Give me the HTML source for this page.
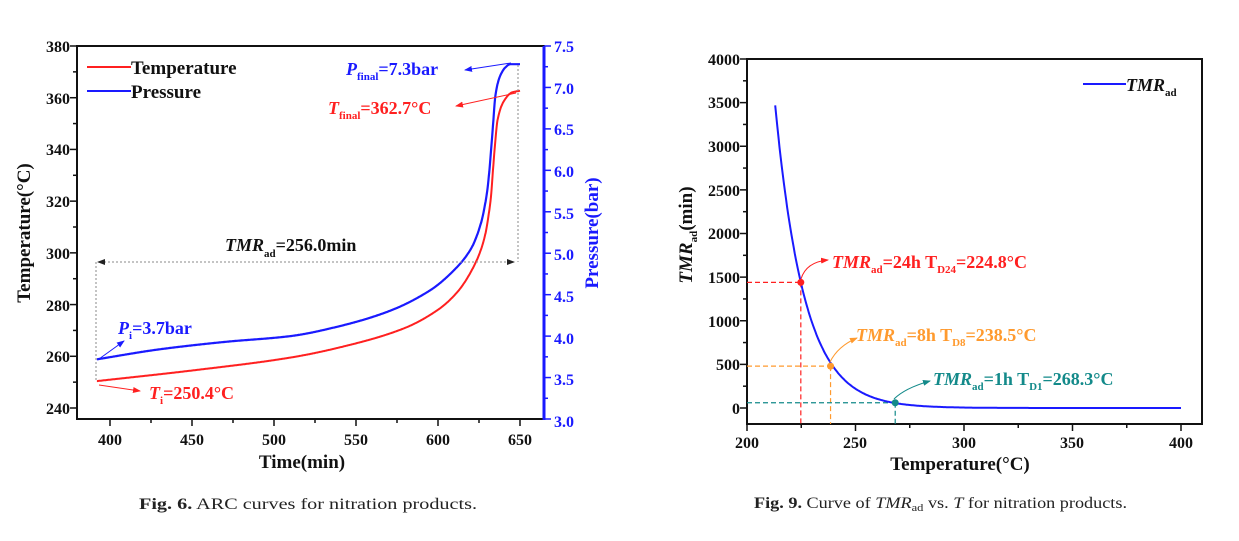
<!DOCTYPE html>
<html><head><meta charset="utf-8">
<style>
html,body{margin:0;padding:0;background:#fff;}
svg{display:block;font-family:"Liberation Serif",serif;}
.b{font-weight:bold;}
</style></head>
<body>
<svg id="s" width="1239" height="541" viewBox="0 0 1239 541" xmlns="http://www.w3.org/2000/svg">
<defs>
<marker id="ab" markerWidth="8" markerHeight="6" refX="7" refY="3" orient="auto" markerUnits="userSpaceOnUse"><path d="M0,0 L8,3 L0,6 Z" fill="#1a1aff"/></marker>
<marker id="ar" markerWidth="8" markerHeight="6" refX="7" refY="3" orient="auto" markerUnits="userSpaceOnUse"><path d="M0,0 L8,3 L0,6 Z" fill="#ff2020"/></marker>
<marker id="ao" markerWidth="8" markerHeight="6" refX="7" refY="3" orient="auto" markerUnits="userSpaceOnUse"><path d="M0,0 L8,3 L0,6 Z" fill="#ff9a2e"/></marker>
<marker id="at" markerWidth="8" markerHeight="6" refX="7" refY="3" orient="auto" markerUnits="userSpaceOnUse"><path d="M0,0 L8,3 L0,6 Z" fill="#138a8a"/></marker>
<marker id="ak" markerWidth="8" markerHeight="6" refX="7" refY="3" orient="auto" markerUnits="userSpaceOnUse"><path d="M0,0 L8,3 L0,6 Z" fill="#222"/></marker>
</defs>
<g id="g"></g>

<g class="b" font-size="16" fill="#111" text-anchor="end">
<text x="70" y="52">380</text><text x="70" y="104">360</text><text x="70" y="155">340</text>
<text x="70" y="207">320</text><text x="70" y="259">300</text><text x="70" y="311">280</text>
<text x="70" y="362">260</text><text x="70" y="414">240</text>
</g>
<g class="b" font-size="16" fill="#1a1aff">
<text x="554" y="52">7.5</text><text x="554" y="94">7.0</text><text x="554" y="135">6.5</text>
<text x="554" y="177">6.0</text><text x="554" y="219">5.5</text><text x="554" y="260">5.0</text>
<text x="554" y="302">4.5</text><text x="554" y="344">4.0</text><text x="554" y="385">3.5</text>
<text x="554" y="427">3.0</text>
</g>
<g class="b" font-size="16" fill="#111" text-anchor="middle">
<text x="110" y="445">400</text><text x="192" y="445">450</text><text x="274" y="445">500</text>
<text x="356" y="445">550</text><text x="438" y="445">600</text><text x="520" y="445">650</text>
</g>
<text class="b" x="302" y="468" font-size="19" text-anchor="middle" fill="#111">Time(min)</text>
<text class="b" transform="translate(30,233) rotate(-90)" font-size="19" text-anchor="middle" fill="#111">Temperature(°C)</text>
<text class="b" transform="translate(598,233) rotate(-90)" font-size="19" text-anchor="middle" fill="#1a1aff">Pressure(bar)</text>
<line x1="87" y1="67" x2="131" y2="67" stroke="#ff2020" stroke-width="2"/>
<text class="b" x="131" y="74" font-size="19" fill="#111">Temperature</text>
<line x1="87" y1="91" x2="131" y2="91" stroke="#1a1aff" stroke-width="2"/>
<text class="b" x="131" y="98" font-size="19" fill="#111">Pressure</text>
<text class="b" x="346" y="75" font-size="18" fill="#1a1aff"><tspan font-style="italic">P</tspan><tspan font-size="11" dy="5">final</tspan><tspan dy="-5">=7.3bar</tspan></text>
<line x1="511" y1="63" x2="465" y2="70" stroke="#1a1aff" stroke-width="1" marker-end="url(#ab)"/>
<text class="b" x="328" y="114" font-size="18" fill="#ff2020"><tspan font-style="italic">T</tspan><tspan font-size="11" dy="5">final</tspan><tspan dy="-5">=362.7°C</tspan></text>
<line x1="516" y1="93" x2="456" y2="106" stroke="#ff2020" stroke-width="1" marker-end="url(#ar)"/>
<text class="b" x="225" y="251" font-size="18" fill="#111"><tspan font-style="italic">TMR</tspan><tspan font-size="11" dy="6">ad</tspan><tspan dy="-6">=256.0min</tspan></text>
<text class="b" x="118" y="334" font-size="18" fill="#1a1aff"><tspan font-style="italic">P</tspan><tspan font-size="11" dy="5">i</tspan><tspan dy="-5">=3.7bar</tspan></text>
<line x1="99" y1="359" x2="124" y2="341" stroke="#1a1aff" stroke-width="1" marker-end="url(#ab)"/>
<text class="b" x="149" y="399" font-size="18" fill="#ff2020"><tspan font-style="italic">T</tspan><tspan font-size="11" dy="5">i</tspan><tspan dy="-5">=250.4°C</tspan></text>
<line x1="99" y1="385" x2="140" y2="391" stroke="#ff2020" stroke-width="1" marker-end="url(#ar)"/>

<g class="b" font-size="16" fill="#111" text-anchor="end">
<text x="740" y="65">4000</text><text x="740" y="108">3500</text><text x="740" y="152">3000</text>
<text x="740" y="196">2500</text><text x="740" y="239">2000</text><text x="740" y="283">1500</text>
<text x="740" y="327">1000</text><text x="740" y="370">500</text><text x="740" y="414">0</text>
</g>
<g class="b" font-size="16" fill="#111" text-anchor="middle">
<text x="747" y="448">200</text><text x="855" y="448">250</text><text x="964" y="448">300</text>
<text x="1072" y="448">350</text><text x="1181" y="448">400</text>
</g>
<text class="b" x="960" y="470" font-size="19" text-anchor="middle" fill="#111">Temperature(°C)</text>
<text class="b" transform="translate(692,235) rotate(-90)" font-size="19" text-anchor="middle" fill="#111"><tspan font-style="italic">TMR</tspan><tspan font-size="11" dy="5">ad</tspan><tspan dy="-5">(min)</tspan></text>
<line x1="1083" y1="84" x2="1126" y2="84" stroke="#1a1aff" stroke-width="2"/>
<text class="b" x="1126" y="91" font-size="18" fill="#111"><tspan font-style="italic">TMR</tspan><tspan font-size="11" dy="5">ad</tspan></text>
<text class="b" x="832" y="268" font-size="18" fill="#ff2020"><tspan font-style="italic">TMR</tspan><tspan font-size="11" dy="5">ad</tspan><tspan dy="-5">=24h T</tspan><tspan font-size="11" dy="5">D24</tspan><tspan dy="-5">=224.8°C</tspan></text>
<text class="b" x="856" y="341" font-size="18" fill="#ff9a2e"><tspan font-style="italic">TMR</tspan><tspan font-size="11" dy="5">ad</tspan><tspan dy="-5">=8h T</tspan><tspan font-size="11" dy="5">D8</tspan><tspan dy="-5">=238.5°C</tspan></text>
<text class="b" x="933" y="385" font-size="18" fill="#138a8a"><tspan font-style="italic">TMR</tspan><tspan font-size="11" dy="5">ad</tspan><tspan dy="-5">=1h T</tspan><tspan font-size="11" dy="5">D1</tspan><tspan dy="-5">=268.3°C</tspan></text>
<path d="M801,279 Q806,262 828,260" fill="none" stroke="#ff2020" stroke-width="1" marker-end="url(#ar)"/>
<path d="M830,362 Q838,346 857,338" fill="none" stroke="#ff9a2e" stroke-width="1" marker-end="url(#ao)"/>
<path d="M894,399 Q905,388 930,381" fill="none" stroke="#138a8a" stroke-width="1" marker-end="url(#at)"/>

<text x="139" y="509" font-size="16" fill="#222" textLength="338" lengthAdjust="spacingAndGlyphs"><tspan font-weight="bold">Fig. 6.</tspan>  ARC curves for nitration products.</text>
<text x="754" y="508" font-size="16" fill="#222" textLength="373" lengthAdjust="spacingAndGlyphs"><tspan font-weight="bold">Fig. 9.</tspan>  Curve of <tspan font-style="italic">TMR</tspan><tspan font-size="11" dy="3">ad</tspan><tspan dy="-3"> vs. </tspan><tspan font-style="italic">T</tspan> for nitration products.</text>
</svg>
<script>
var g=document.getElementById('g'),NS='http://www.w3.org/2000/svg';
function el(t,a){var e=document.createElementNS(NS,t);for(var k in a)e.setAttribute(k,a[k]);g.appendChild(e);return e;}
var L=77,R=544,T=46,B=419;
function X1(m){return 110+(m-400)*82/50;}
function YT(t){return 46+(380-t)*(362/140);}
function YP(p){return 419-(p-3.0)*(373/4.5);}
el('rect',{x:L,y:T,width:R-L,height:B-T,fill:'none',stroke:'#111','stroke-width':2});
el('line',{x1:R,y1:T,x2:R,y2:B+1,stroke:'#1a1aff','stroke-width':3});
for(var t=240;t<=380;t+=10){var y=YT(t);el('line',{x1:L-(t%20==0?7:4),y1:y,x2:L,y2:y,stroke:'#111','stroke-width':1.5});}
for(var p=3.0;p<=7.51;p+=0.25){var y=YP(p);el('line',{x1:R,y1:y,x2:R+(Math.abs(p*2-Math.round(p*2))<0.01?7:4),y2:y,stroke:'#1a1aff','stroke-width':1.5});}
for(var m=400;m<=650;m+=25){var x=X1(m);el('line',{x1:x,y1:B,x2:x,y2:B+(m%50==0?7:4),stroke:'#111','stroke-width':1.5});}
// monotone cubic
function mono(pts){var n=pts.length,d=[],m=[];for(var i=0;i<n-1;i++)d.push((pts[i+1][1]-pts[i][1])/(pts[i+1][0]-pts[i][0]));
m[0]=d[0];m[n-1]=d[n-2];for(var i=1;i<n-1;i++){m[i]=(d[i-1]*d[i]<=0)?0:2/(1/d[i-1]+1/d[i]);}
return function(x){var i=0;while(i<n-2&&x>pts[i+1][0])i++;var h=pts[i+1][0]-pts[i][0],t=(x-pts[i][0])/h;if(t<0)t=0;if(t>1)t=1;
var t2=t*t,t3=t2*t;return (2*t3-3*t2+1)*pts[i][1]+(t3-2*t2+t)*h*m[i]+(-2*t3+3*t2)*pts[i+1][1]+(t3-t2)*h*m[i+1];};}
var tp=[[392,250.4],[450,254.5],[510,259.5],[550,265],[580,271],[600,278],[612,285],[622,295],[628,305],[632,320],[634.5,340],[636.5,352],[640,358.5],[645,362],[650,362.7]];
var pp=[[392,3.72],[430,3.84],[470,3.93],[510,4.0],[540,4.12],[570,4.3],[595,4.55],[610,4.8],[620,5.05],[626,5.35],[630,5.75],[633,6.4],[635,6.9],[637.5,7.12],[641,7.24],[644,7.28],[650,7.28]];
function pathOf(pts,fy){var f=mono(pts),d='';for(var m=392;m<=650;m+=0.25){var v=f(m);d+=(d?'L':'M')+X1(m).toFixed(1)+','+fy(v).toFixed(1);}return d;}
el('path',{d:pathOf(tp,YT),fill:'none',stroke:'#ff2020','stroke-width':2});
el('path',{d:pathOf(pp,YP),fill:'none',stroke:'#1a1aff','stroke-width':2.2});
el('line',{x1:96,y1:262,x2:96,y2:381,stroke:'#888','stroke-width':1,'stroke-dasharray':'2,2'});
el('line',{x1:518,y1:65,x2:518,y2:262,stroke:'#888','stroke-width':1,'stroke-dasharray':'2,2'});
el('line',{x1:100,y1:262,x2:514,y2:262,stroke:'#888','stroke-width':1,'stroke-dasharray':'2,2','marker-end':'url(#ak)'});
el('line',{x1:514,y1:262,x2:98,y2:262,stroke:'none','marker-end':'url(#ak)'});
var L2=747,R2=1202,T2=59,B2=424;
function X2(t){return 747+(t-200)*108.5/50;}
function Y2(v){return 408-v*(349/4000);}
el('rect',{x:L2,y:T2,width:R2-L2,height:B2-T2,fill:'none',stroke:'#111','stroke-width':2});
for(var v=0;v<=4000;v+=250){var y=Y2(v);el('line',{x1:L2-(v%500==0?7:4),y1:y,x2:L2,y2:y,stroke:'#111','stroke-width':1.5});}
for(var t=200;t<=400;t+=25){var x=X2(t);el('line',{x1:x,y1:B2,x2:x,y2:B2+(t%50==0?7:4),stroke:'#111','stroke-width':1.5});}
function tmr(t){return 1440*Math.exp(-0.0745*(t-224.8));}
var d='';for(var t=213;t<=400;t+=0.5){var v=Math.min(tmr(t),3670);d+=(d?'L':'M')+X2(t).toFixed(1)+','+Y2(v).toFixed(1);}
var pts=[[224.8,1440,'#ff2020'],[238.5,480,'#ff9a2e'],[268.3,60,'#138a8a']];
pts.forEach(function(q){var x=X2(q[0]),y=Y2(q[1]);
el('line',{x1:L2,y1:y,x2:x,y2:y,stroke:q[2],'stroke-width':1.2,'stroke-dasharray':'5,3'});
el('line',{x1:x,y1:y,x2:x,y2:B2,stroke:q[2],'stroke-width':1.2,'stroke-dasharray':'5,3'});});
el('path',{d:d,fill:'none',stroke:'#1a1aff','stroke-width':2});
pts.forEach(function(q){el('circle',{cx:X2(q[0]),cy:Y2(q[1]),r:3.5,fill:q[2]});});
</script>
</body></html>
